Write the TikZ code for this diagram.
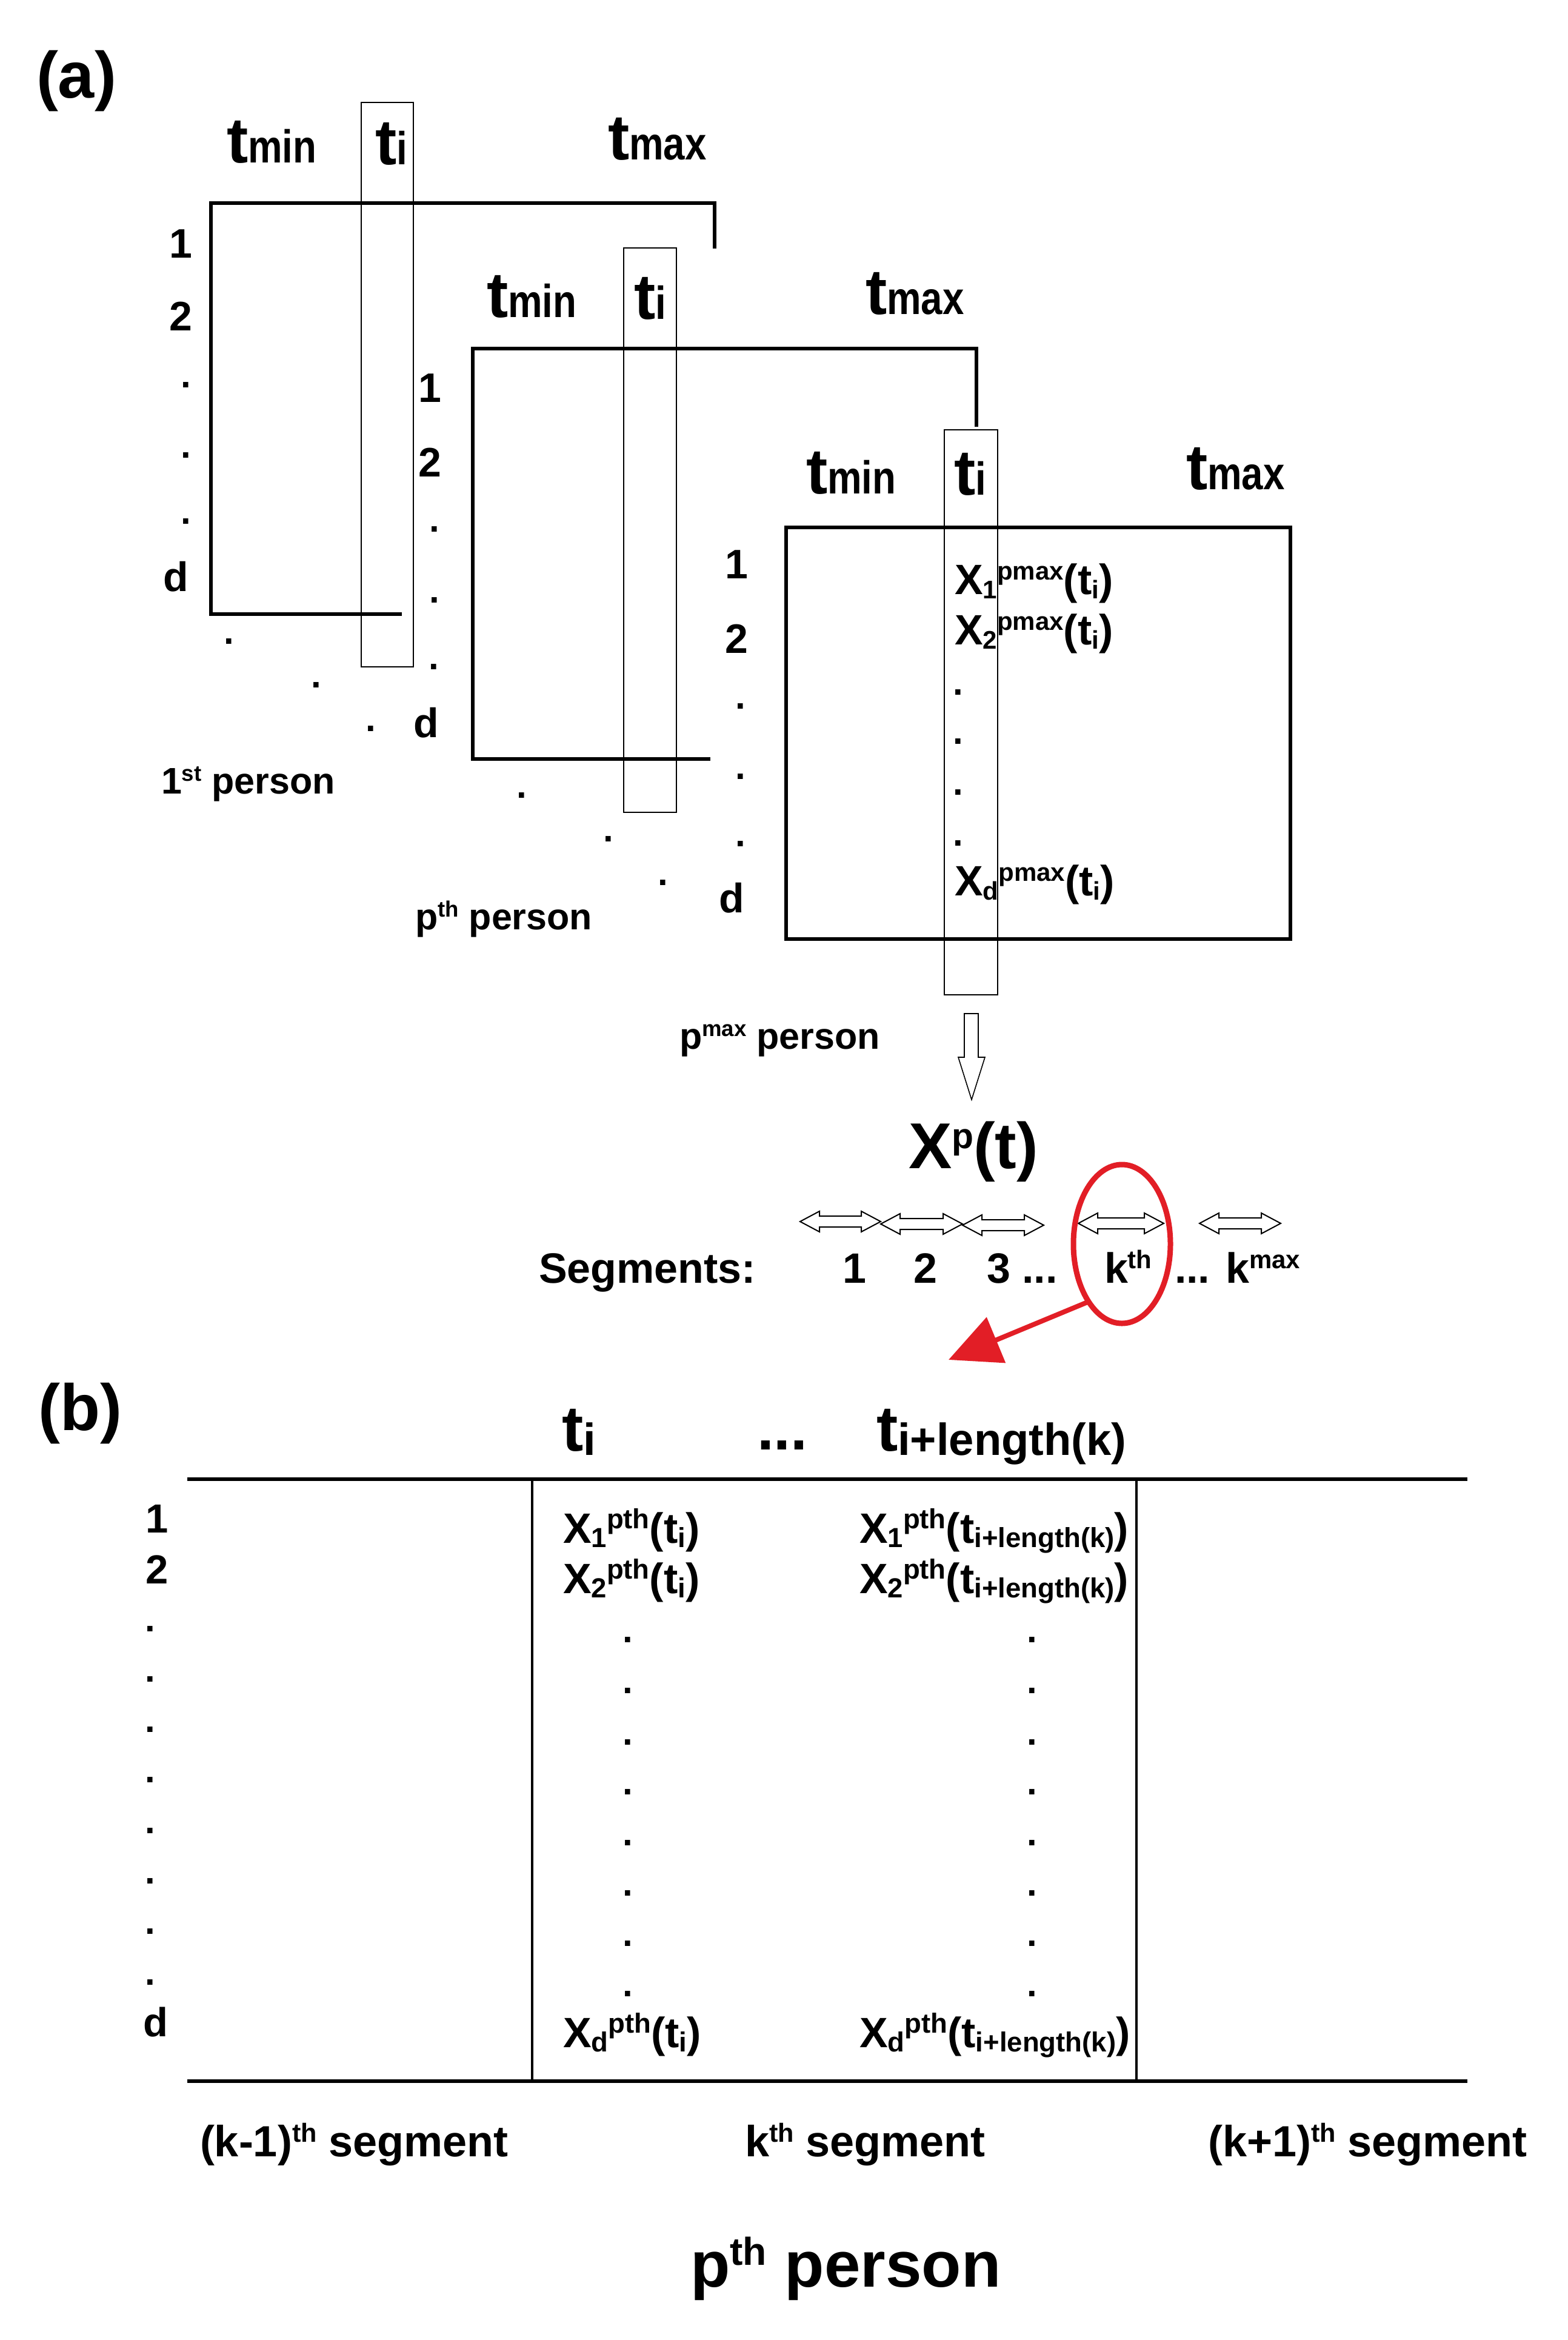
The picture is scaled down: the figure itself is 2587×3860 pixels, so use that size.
\documentclass[tikz,border=0pt]{standalone}
\usepackage{fontspec}
\setmainfont{Liberation Sans}
\usepackage{graphicx}
\usetikzlibrary{arrows.meta,shapes.geometric}
\definecolor{redmark}{RGB}{226,30,38}
\newcommand\fsz[1]{\fontsize{#1}{#1}\selectfont\bfseries}
\newcommand\SB[2][0.6]{\raisebox{-0.1em}{\scalebox{#1}{#2}}}
\newcommand\SP[2][0.6]{\raisebox{0.33em}{\scalebox{#1}{#2}}}
\newcommand\TS[1]{\scalebox{0.6}[0.72]{#1}}
\newcommand\TB[1]{\raisebox{-0.07em}{\scalebox{0.7}{#1}}}
\newcommand\segarrow[3]{%
  \draw[segar] (#1,#3) -- ({#1+32},{#3-17}) -- ({#1+32},{#3-9}) -- ({#2-32},{#3-9})
    -- ({#2-32},{#3-17}) -- (#2,#3) -- ({#2-32},{#3+17}) -- ({#2-32},{#3+9})
    -- ({#1+32},{#3+9}) -- ({#1+32},{#3+17}) -- cycle;}
\tikzset{
  every node/.style={inner sep=0pt, outer sep=0pt},
  panel/.style={font=\fsz{108}, anchor=base},
  hdr/.style={font=\fsz{106}, anchor=base west},
  rowlab/.style={font=\fsz{68}, anchor=base},
  dotn/.style={font=\fsz{60}, anchor=center},
  person/.style={font=\fsz{61}, anchor=base west},
  xent/.style={font=\fsz{70}, anchor=base west},
  seglab/.style={font=\fsz{70}, anchor=base west},
  botlab/.style={font=\fsz{72}, anchor=base west},
  boxline/.style={line width=6pt, line join=miter},
  tirect/.style={line width=2pt},
  segar/.style={line width=2pt, fill=white},
  hollowar/.style={line width=1.6pt, fill=white},
  tline/.style={line width=6pt},
  vline/.style={line width=4pt},
  redarrow/.style={draw=redmark, line width=8pt, -{Triangle[length=85pt,width=80pt]}},
}
\begin{document}
\begin{tikzpicture}[x=1pt,y=-1pt]
\fill[white] (0,0) rectangle (2587,3860);
\useasboundingbox (0,0) rectangle (2587,3860);

% ---------------- (a) ----------------
\node[panel] (la) at (126,161) {(a)};

% first person
\node[hdr] (tmin1) at (374,268) {t\TS{min}};
\node[hdr] (ti1) at (619,271) {t\TS{i}};
\node[hdr] (tmax1) at (1003,263) {t\TS{max}};
\draw[boxline] (663,1013) -- (348,1013) -- (348,335) -- (1179,335) -- (1179,410);
\draw[tirect] (596,169) rectangle (682,1100);
\node[rowlab] (a1r1) at (298,425) {1};
\node[rowlab] (a1r2) at (298,545) {2};
\node[dotn] (a1d1) at (307,635) {.};
\node[dotn] (a1d2) at (307,751) {.};
\node[dotn] (a1d3) at (307,860) {.};
\node[rowlab] (a1rd) at (290,975) {d};
\node[dotn] (a1e1) at (378,1058) {.};
\node[dotn] (a1e2) at (522,1130) {.};
\node[dotn] (a1e3) at (612,1202) {.};
\node[person] (p1) at (266,1309) {1\SP{st} person};

% p-th person
\node[hdr] (tmin2) at (803,523) {t\TS{min}};
\node[hdr] (ti2) at (1046,526) {t\TS{i}};
\node[hdr] (tmax2) at (1428,518) {t\TS{max}};
\draw[boxline] (1172,1252) -- (780,1252) -- (780,575) -- (1611,575) -- (1611,704);
\draw[tirect] (1029,409) rectangle (1116,1340);
\node[rowlab] (a2r1) at (709,663) {1};
\node[rowlab] (a2r2) at (709,786) {2};
\node[dotn] (a2d1) at (717,873) {.};
\node[dotn] (a2d2) at (717,990) {.};
\node[dotn] (a2d3) at (716,1100) {.};
\node[rowlab] (a2rd) at (703,1216) {d};
\node[dotn] (a2e1) at (861,1312) {.};
\node[dotn] (a2e2) at (1004,1384) {.};
\node[dotn] (a2e3) at (1094,1456) {.};
\node[person] (pp) at (685,1533) {p\SP{th} person};

% p-max person
\node[hdr] (tmin3) at (1330,814) {t\TS{min}};
\node[hdr] (ti3) at (1574,816) {t\TS{i}};
\node[hdr] (tmax3) at (1957,807) {t\TS{max}};
\draw[boxline] (1297,870) rectangle (2129,1549);
\draw[tirect] (1558,709) rectangle (1646,1641);
\node[rowlab] (a3r1) at (1215,954) {1};
\node[rowlab] (a3r2) at (1215,1077) {2};
\node[dotn] (a3d1) at (1222,1165) {.};
\node[dotn] (a3d2) at (1222,1281) {.};
\node[dotn] (a3d3) at (1222,1392) {.};
\node[rowlab] (a3rd) at (1207,1505) {d};
\node[xent] (x1) at (1575,980) {X\SB{1}\SP{pmax}(t\SB{i})};
\node[xent] (x2) at (1575,1063) {X\SB{2}\SP{pmax}(t\SB{i})};
\node[dotn] (xd1) at (1581,1142) {.};
\node[dotn] (xd2) at (1581,1223) {.};
\node[dotn] (xd3) at (1581,1307) {.};
\node[dotn] (xd4) at (1581,1391) {.};
\node[xent] (xd) at (1575,1477) {X\SB{d}\SP{pmax}(t\SB{i})};
\node[person] (pm) at (1121,1730) {p\SP{max} person};

% hollow down arrow
\draw[hollowar] (1591,1672) -- (1614,1672) -- (1614,1744) -- (1625,1744) -- (1603,1814)
  -- (1581,1744) -- (1591,1744) -- cycle;

\node[font=\fsz{107}, anchor=base west] (xpt) at (1499,1927) {X\raisebox{0.3em}{\scalebox{0.55}{p}}(t)};

% segments
\segarrow{1320}{1453}{2015}
\segarrow{1453}{1588}{2019}
\segarrow{1588}{1722}{2021}
\segarrow{1779}{1920}{2018}
\segarrow{1979}{2113}{2018}
\node[seglab] (segs) at (889,2116) {Segments:};
\node[seglab] (s1) at (1390,2116) {1};
\node[seglab] (s2) at (1507,2116) {2};
\node[seglab] (s3) at (1628,2116) {3 ...};
\node[seglab] (sk) at (1822,2116) {k\SP{th}};
\node[seglab] (skm) at (1938,2116) {... k\SP{max}};
\node[draw=redmark, line width=9pt, ellipse, minimum width=160pt, minimum height=262pt] (ell) at (1851,2052) {};
\coordinate (rt) at (1565,2243);
\draw[redarrow] (ell.240) -- (rt);

% ---------------- (b) ----------------
\node[panel] (lb) at (132,2359) {(b)};
\node[hdr] (hti) at (927,2393) {t\TB{i}};
\node[font=\fsz{100}, anchor=base west] (hdots) at (1249,2391) {...};
\node[hdr] (htl) at (1446,2393) {t\TB{i+length(k)}};
\coordinate (tl1) at (309,2440);
\coordinate (tl2) at (2421,2440);
\coordinate (bl1) at (309,3433);
\coordinate (bl2) at (2421,3433);
\coordinate (v1t) at (878,2440);
\coordinate (v1b) at (878,3433);
\coordinate (v2t) at (1875,2440);
\coordinate (v2b) at (1875,3433);
\draw[vline] (v1t) -- (v1b);
\draw[vline] (v2t) -- (v2b);
\draw[tline] (tl1) -- (tl2);
\draw[tline] (bl1) -- (bl2);

\node[rowlab, font=\fsz{67}] (b1) at (259,2528) {1};
\node[rowlab, font=\fsz{67}] (b2) at (259,2612) {2};
\foreach \y [count=\k] in {2687,2770,2853,2936,3020,3103,3186,3270}
  \node[dotn] (bd\k) at (248,\y) {.};
\node[rowlab, font=\fsz{67}] (bdd) at (257,3359) {d};
\foreach \y [count=\k] in {2705,2789,2874,2956,3040,3123,3206,3289}{
  \node[dotn] (cl\k) at (1036,\y) {.};
  \node[dotn] (cr\k) at (1703,\y) {.};
}
\node[xent] (bx1l) at (929,2545) {X\SB[0.65]{1}\SP[0.65]{pth}(t\SB[0.65]{i})};
\node[xent] (bx1r) at (1418,2545) {X\SB[0.65]{1}\SP[0.65]{pth}(t\SB[0.65]{i+length(k)})};
\node[xent] (bx2l) at (929,2628) {X\SB[0.65]{2}\SP[0.65]{pth}(t\SB[0.65]{i})};
\node[xent] (bx2r) at (1418,2628) {X\SB[0.65]{2}\SP[0.65]{pth}(t\SB[0.65]{i+length(k)})};
\node[xent] (bxdl) at (929,3377) {X\SB[0.65]{d}\SP[0.65]{pth}(t\SB[0.65]{i})};
\node[xent] (bxdr) at (1418,3377) {X\SB[0.65]{d}\SP[0.65]{pth}(t\SB[0.65]{i+length(k)})};

\node[botlab] (segm1) at (330,3557) {(k-1)\SP{th} segment};
\node[botlab] (segk) at (1229,3557) {k\SP{th} segment};
\node[botlab] (segp1) at (1993,3557) {(k+1)\SP{th} segment};
\node[font=\fsz{107}, anchor=base west] (pth) at (1139,3772) {p\SP{th} person};
\end{tikzpicture}
\end{document}
